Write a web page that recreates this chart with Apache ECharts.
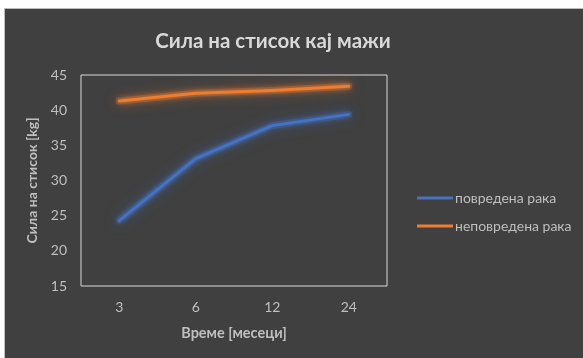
<!DOCTYPE html>
<html>
<head>
<meta charset="utf-8">
<script src="https://cdn.jsdelivr.net/npm/echarts@6/dist/echarts.min.js"></script>
<style>
  html, body { margin: 0; padding: 0; background: #ffffff; }
  #frame { position: absolute; left: 4px; top: 8px; width: 579px; height: 350px;
           background: #404040; border-left: 1px solid #bdbdbd; border-top: 1px solid #bdbdbd; box-sizing: border-box; }
  #chart { position: absolute; left: 0; top: 0; width: 583px; height: 358px; }
</style>
</head>
<body>
<div id="frame"></div>
<div id="chart"></div>
<script>
// Grip strength in men, injured vs. uninjured hand
const titleText = 'Сила на стисок кај мажи';
const months = ['3', '6', '12', '24'];
const injuredName = 'повредена рака';
const uninjuredName = 'неповредена рака';
const injured = [24.3, 33.1, 37.8, 39.4];
const uninjured = [41.3, 42.4, 42.8, 43.4];
const yTicks = { min: 15, max: 45, interval: 5 };

const font = 'Lato, "Open Sans", sans-serif';
const textGray = '#bfbfbf';

// soft halo drawn underneath each line
function glowSeries(name, data, color) {
  return {
    name: name + ' glow', type: 'line', data,
    symbol: 'none', silent: true, z: 1,
    lineStyle: { color, width: 7, opacity: 0.28, shadowColor: color, shadowBlur: 14, cap: 'round', join: 'round' },
    animation: false
  };
}

function lineSeries(name, data, color) {
  return {
    name, type: 'line', data,
    symbol: 'none', z: 2,
    lineStyle: { color, width: 3, shadowColor: color, shadowBlur: 6, cap: 'round', join: 'round' },
    itemStyle: { color },
    animation: false
  };
}

const chart = echarts.init(document.getElementById('chart'), null, { renderer: 'canvas' });
chart.setOption({
  backgroundColor: 'transparent',
  title: {
    text: titleText, left: 268, top: 26, textAlign: 'center',
    textStyle: { color: '#d9d9d9', fontFamily: font, fontWeight: 'bold', fontSize: 20.5 }
  },
  grid: { left: 81, top: 75, width: 306, height: 211, show: true, borderColor: '#d9d9d9', borderWidth: 1, backgroundColor: 'transparent' },
  legend: {
    orient: 'vertical', left: 412, top: 186, itemGap: 14,
    itemWidth: 36, itemHeight: 3, icon: 'rect',
    textStyle: { color: textGray, fontFamily: font, fontSize: 14, padding: [0, 0, 0, -3] },
    data: [injuredName, uninjuredName]
  },
  xAxis: {
    type: 'category', data: months, boundaryGap: true,
    axisLine: { show: false }, axisTick: { show: false },
    axisLabel: { color: textGray, fontFamily: font, fontSize: 14, margin: 14 },
    name: 'Време [месеци]', nameLocation: 'middle', nameGap: 40,
    nameTextStyle: { color: textGray, fontFamily: font, fontWeight: 'bold', fontSize: 14.5 }
  },
  yAxis: {
    type: 'value', min: yTicks.min, max: yTicks.max, interval: yTicks.interval,
    splitLine: { show: false }, axisLine: { show: false }, axisTick: { show: false },
    axisLabel: { color: textGray, fontFamily: font, fontSize: 14, margin: 14 },
    name: 'Сила на стисок [kg]', nameLocation: 'middle', nameGap: 38,
    nameTextStyle: { color: textGray, fontFamily: font, fontWeight: 'bold', fontSize: 14 }
  },
  series: [
    glowSeries(injuredName, injured, '#4472c4'),
    glowSeries(uninjuredName, uninjured, '#ed7d31'),
    lineSeries(injuredName, injured, '#4472c4'),
    lineSeries(uninjuredName, uninjured, '#ed7d31')
  ]
});
</script>
</body>
</html>
